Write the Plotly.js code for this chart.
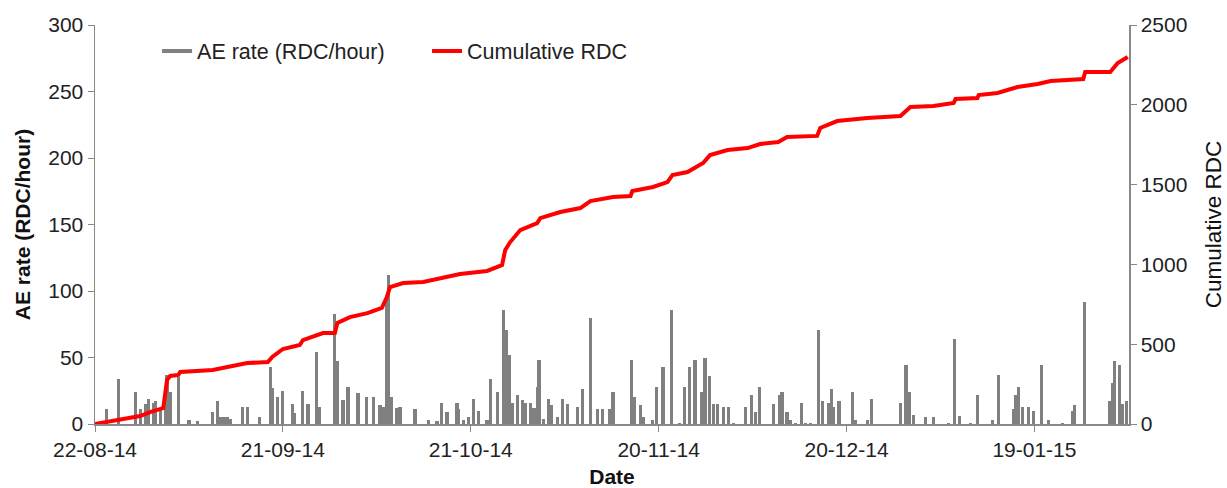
<!DOCTYPE html>
<html>
<head>
<meta charset="utf-8">
<script src="https://cdn.plot.ly/plotly-3.0.1.min.js"></script>
<style>
html,body{margin:0;padding:0;background:#fff;}
#chart{width:1227px;height:488px;}
.legend .traces{opacity:1 !important;}
</style>
</head>
<body>
<div id="chart"></div>
<script>
// Start date of the record: 22-08-14; all day values are days after this date
const startDate = '2014-08-22';

// AE rate spikes (RDC/hour)
const aeDay = [1.9,3.8,6.5,7.2,8.0,8.6,9.3,9.7,10.4,11.2,11.5,12.0,13.3,15.0,16.3,18.7,19.5,20.0,20.6,21.1,21.7,23.6,24.4,26.2,28.0,28.4,29.2,30.0,31.5,31.9,33.2,34.0,35.3,35.9,38.3,38.7,39.6,40.4,42.0,43.4,44.4,45.5,46.0,46.6,46.8,47.4,48.2,48.7,51.1,53.2,
54.6,55.3,56.2,57.8,58.1,58.8,59.6,60.4,61.3,62.6,63.1,64.2,65.2,65.7,66.1,66.6,67.4,68.2,68.7,69.5,70.1,70.6,70.9,71.6,72.4,72.8,73.8,74.6,75.4,77.0,77.8,79.1,80.3,81.1,82.1,82.7,85.6,86.1,87.1,87.5,89.0,89.6,90.7,92.0,93.3,94.1,94.9,95.8,96.8,97.4,98.1,98.7,99.4,100.3,101.1,101.9,103.8,104.8,105.4,106.1,108.3,109.3,
109.7,110.5,111.0,111.8,112.8,113.4,114.2,115.5,116.1,117.2,117.6,117.9,118.8,120.9,121.4,123.3,124.0,128.6,129.5,130.0,130.7,132.6,133.9,136.3,137.2,138.0,139.8,140.9,143.3,144.2,146.6,147.0,147.4,148.1,149.0,149.8,151.1,152.2,154.5,156.1,156.4,158.0,162.0,162.5,162.8,163.6,164.0,164.7];
const aeRate = [11,34,24,11,15,19,16,17,12,27,37,24,35,3,2,9,17,5,5,5,4,13,13,5,43,27,20,25,15,8,25,15,54,13,83,47,18,28,23,20,20,14,13,95,112,20,12,13,11,3,
2,16,9,16,11,3,5,19,10,3,34,24,86,71,52,16,22,18,16,16,12,28,48,4,19,14,5,19,15,13,26,80,11,11,11,24,48,20,14,5,3,28,43,86,1,28,43,48,24,50,36,15,15,13,13,1,13,22,9,28,15,22,
24,9,3,1,16,1,1,71,17,16,26,13,17,24,3,3,19,16,44,24,7,5,5,1,64,6,1,22,3,37,11,22,28,13,13,10,44,3,1,10,14,92,17,31,47,44,15,17];

// Cumulative RDC
const cumDay = [0,4.0,7.2,8.8,10.9,11.5,12.0,13.3,13.6,18.8,21.1,24.3,27.6,28.3,30.0,32.7,33.2,36.4,38.3,38.7,40.7,43.5,45.8,46.6,47.1,49.2,52.4,55.1,58.3,62.6,65.0,65.5,66.3,67.9,70.6,71.1,74.3,77.5,79.1,82.7,85.5,85.8,89.1,91.4,92.2,94.6,97.1,98.2,101.0,104.2,106.2,109.1,110.5,115.3,115.8,118.5,123.3,128.6,130.2,133.9,137.1,137.4,140.9,141.1,144.1,147.3,150.5,152.6,157.8,158.1,162.1,163.3,164.9];
const cumRdc = [0,31,50,75,100,276,301,307,326,338,357,382,388,420,470,495,526,570,570,633,670,695,727,796,858,883,890,915,940,959,996,1090,1140,1215,1259,1290,1328,1353,1397,1422,1428,1460,1485,1516,1560,1579,1635,1685,1717,1729,1754,1767,1798,1805,1855,1898,1917,1930,1986,1992,2011,2036,2042,2061,2074,2111,2130,2149,2161,2205,2205,2262,2300];

const leftTicks = [0,50,100,150,200,250,300];
const rightTicks = [0,500,1000,1500,2000,2500];
const seriesNames = ['AE rate (RDC/hour)', 'Cumulative RDC'];
const xTitle = 'Date';
const yTitle = 'AE rate (RDC/hour)';
const y2Title = 'Cumulative RDC';

const DAY = 86400000;
const t0 = Date.parse(startDate + 'T00:00:00Z');
const toX = d => t0 + d * DAY;

const font = 'Liberation Sans, Arial, sans-serif';
const GRAY = '#808080';
const RED = '#ff0000';

const traces = [
  {
    type: 'bar', x: aeDay.map(toX), y: aeRate, width: 0.5 * DAY,
    marker: {color: GRAY, line: {width: 0}}, showlegend: false, yaxis: 'y', hoverinfo: 'skip'
  },
  {
    // legend entry for the AE rate series (drawn as a line sample, like the original)
    type: 'scatter', mode: 'lines', x: aeDay.map(toX), y: aeRate, name: seriesNames[0],
    visible: 'legendonly', line: {color: GRAY, width: 4}, yaxis: 'y'
  },
  {
    type: 'scatter', mode: 'lines', x: cumDay.map(toX), y: cumRdc, name: seriesNames[1],
    line: {color: RED, width: 4}, yaxis: 'y2'
  }
];

const layout = {
  width: 1227, height: 488,
  margin: {l: 95, r: 98, t: 25, b: 64, pad: 0},
  paper_bgcolor: '#ffffff', plot_bgcolor: '#ffffff',
  font: {family: font, size: 21, color: '#222'},
  bargap: 0,
  showlegend: true,
  legend: {orientation: 'h', x: 0.06, xanchor: 'left', y: 0.935, yanchor: 'middle',
           entrywidth: 225, entrywidthmode: 'pixels',
           font: {family: font, size: 21.5, color: '#222'}, bgcolor: 'rgba(0,0,0,0)', itemwidth: 30},
  xaxis: {
    type: 'date', range: [toX(0), toX(165.1)],
    tick0: toX(0), dtick: 30 * DAY, tickformat: '%d-%m-%y',
    ticks: 'outside', ticklen: 6, tickcolor: '#888', showline: true, linecolor: '#888', linewidth: 1.5,
    showgrid: false, zeroline: false,
    tickfont: {family: font, size: 21, color: '#222'},
    title: {text: '<b>' + xTitle + '</b>', font: {family: font, size: 21, color: '#111'}, standoff: 23}
  },
  yaxis: {
    range: [0, 300], tickvals: leftTicks, ticks: 'outside', ticklen: 6, tickcolor: '#888',
    showline: true, linecolor: '#888', linewidth: 1.5, showgrid: false, zeroline: false,
    tickfont: {family: font, size: 21, color: '#222'},
    title: {text: '<b>' + yTitle + '</b>', font: {family: font, size: 21, color: '#111'}, standoff: 12}
  },
  yaxis2: {
    range: [0, 2500], tickvals: rightTicks, overlaying: 'y', side: 'right',
    ticks: 'outside', ticklen: 6, tickcolor: '#888',
    showline: true, linecolor: '#888', linewidth: 1.5, showgrid: false, zeroline: false,
    tickfont: {family: font, size: 21, color: '#222'},
    title: {text: y2Title, font: {family: font, size: 22.5, color: '#111'}, standoff: 19}
  }
};

Plotly.newPlot('chart', traces, layout, {displayModeBar: false, staticPlot: true});
</script>
</body>
</html>
